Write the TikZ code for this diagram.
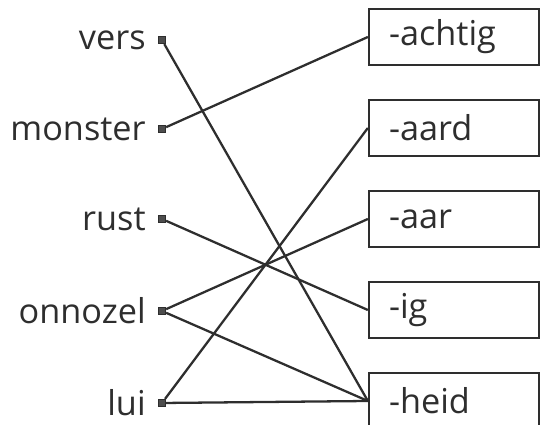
\documentclass[tikz,border=0pt]{standalone}
\usepackage{fontspec}
\setmainfont{Open Sans}
\usepackage{tikz}
\definecolor{inkgray}{HTML}{2E2E2E}
\tikzset{
	% word on the left: small square marker, the word itself as label
	word node/.style={rectangle,draw=inkgray,fill=inkgray!85,inner sep=0,minimum size=0.15cm},
	% suffix on the right: framed box, text set to the left
	suffix node/.style={rectangle,draw=inkgray,line width=1.3pt,minimum height=1.12cm,
		text width=2.6cm,inner xsep=0.4cm,align=left,text=inkgray},
	% line from word to suffix
	link/.style={draw=inkgray,line width=1.3pt}
}

\begin{document}
\begin{tikzpicture}[font=\fontsize{19.5}{22}\selectfont]
\useasboundingbox (0,0) rectangle (10.88,-8.5);

% words (left column)
\node(vers)[word node,label={[text=inkgray,xshift=-0.12cm]left:vers}] at (3.24,-0.8) {};
\node(monster)[word node,label={[text=inkgray,xshift=-0.12cm]left:monster}] at (3.24,-2.58) {};
\node(rust)[word node,label={[text=inkgray,xshift=-0.12cm]left:rust}] at (3.24,-4.38) {};
\node(onnozel)[word node,label={[text=inkgray,xshift=-0.12cm]left:onnozel}] at (3.24,-6.22) {};
\node(lui)[word node,label={[text=inkgray,xshift=-0.12cm]left:lui}] at (3.24,-8.06) {};

% suffixes (right column)
\node(achtig)[suffix node] at (9.08,-0.74) {-achtig};
\node(aard)[suffix node] at (9.08,-2.56) {-aard};
\node(aar)[suffix node] at (9.08,-4.38) {-aar};
\node(ig)[suffix node] at (9.08,-6.2) {-ig};
\node(heid)[suffix node] at (9.08,-8.02) {-heid};

% matches
\draw[link] (vers) -- (heid.west);
\draw[link] (monster) -- (achtig.west);
\draw[link] (rust) -- (ig.west);
\draw[link] (onnozel) -- (aar.west);
\draw[link] (onnozel) -- (heid.west);
\draw[link] (lui) -- (aard.west);
\draw[link] (lui) -- (heid.west);

\end{tikzpicture}
\end{document}
